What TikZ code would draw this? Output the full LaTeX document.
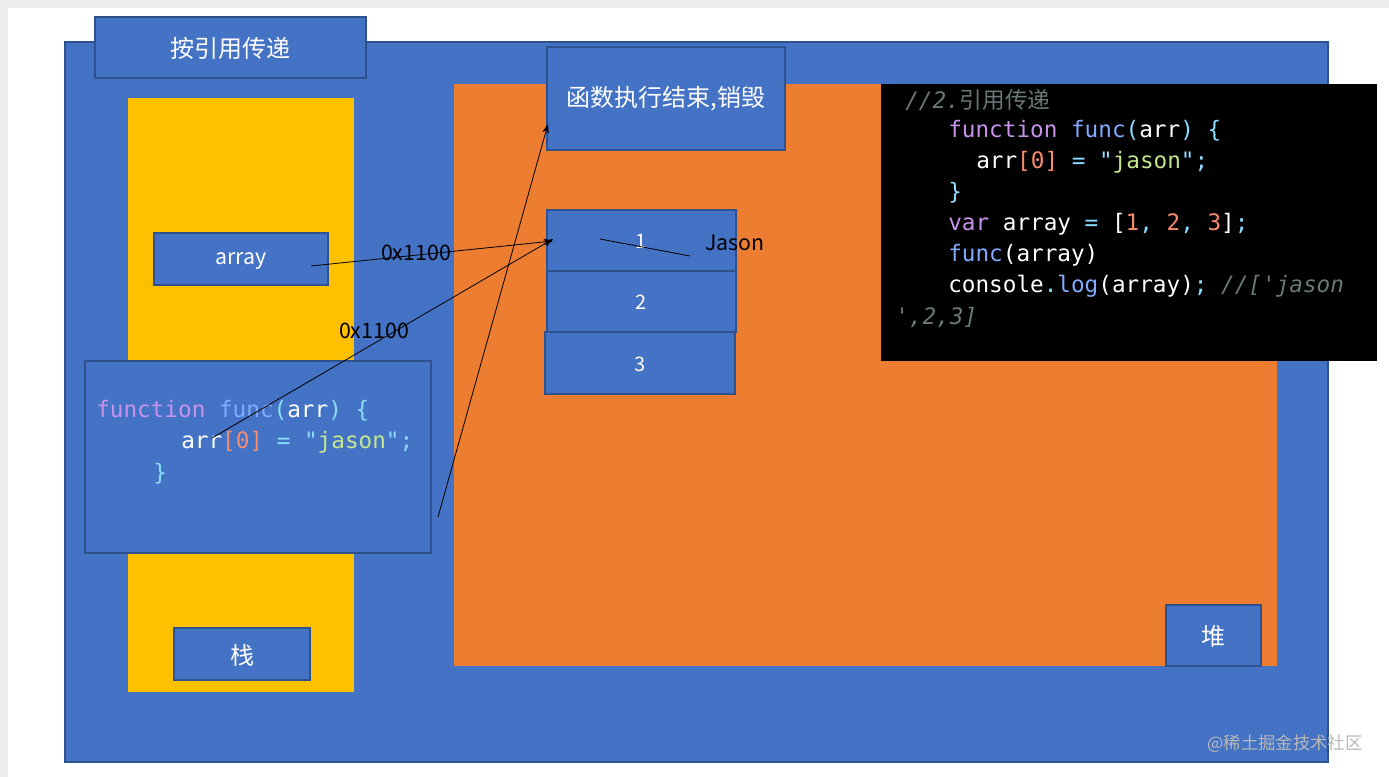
\documentclass[tikz,border=0pt]{standalone}
\usepackage{fontspec}
\setmainfont{Noto Sans CJK SC}
\setmonofont{DejaVu Sans Mono}
\newfontfamily\cjk{Noto Sans CJK SC}
\usetikzlibrary{arrows.meta}
\definecolor{bgblue}{HTML}{4472C4}
\definecolor{edgeblue}{HTML}{2F528F}
\definecolor{yel}{HTML}{FFC000}
\definecolor{ora}{HTML}{ED7D31}
\definecolor{kw}{HTML}{C792EA}
\definecolor{fn}{HTML}{82AAFF}
\definecolor{pn}{HTML}{89DDFF}
\definecolor{num}{HTML}{F78C6C}
\definecolor{str}{HTML}{C3E88D}
\definecolor{cm}{HTML}{697878}
\definecolor{wm}{HTML}{B8B8B8}
\begin{document}
\begin{tikzpicture}[x=0.75pt,y=-0.75pt,
  box/.style={draw=edgeblue,fill=bgblue,line width=0.8pt},
  lbl/.style={text=white,font=\fontsize{18}{20}\selectfont},
  num/.style={text=white,font=\fontsize{15}{18}\selectfont},
  code/.style={anchor=west,inner sep=0pt,text=white,font=\ttfamily\fontsize{17}{20}\selectfont},
  arr/.style={-{Stealth[length=7pt,width=5pt]},black,line width=0.6pt}]
\fill[gray!15] (0,0) rectangle (1389,777);
\fill[white] (8,8) rectangle (1389,777);
\useasboundingbox (0,0) rectangle (1389,777);
\draw[box] (65,42) rectangle (1328,762);
\draw[box] (95,17) rectangle (366,78);
\node[lbl] (title) at (230.5,48) {按引用传递};
\fill[yel] (128,98) rectangle (354,692);
\draw[box] (154,233) rectangle (328,285);
\node[num,font=\fontsize{16}{18}\selectfont] (array) at (241,261) {array};
\draw[box] (85,361) rectangle (431,553);
\draw[box] (174,628) rectangle (310,680);
\node[lbl] (stack) at (242,655) {栈};
\fill[ora] (454,84) rectangle (1277,666);
\draw[box] (547,47) rectangle (785,150);
\node[lbl] (done) at (666,99) {函数执行结束,销毁};
\draw[box] (547,210) rectangle (736,271);
\draw[box] (547,271) rectangle (736,332);
\draw[box] (545,332) rectangle (735,394);
\node[num] (c1) at (641,241) {1};
\node[num] (c2) at (641,302) {2};
\node[num] (c3) at (640,364) {3};
\node[font=\fontsize{16}{18}\selectfont,anchor=west,inner sep=0pt] (jason) at (705,243) {Jason};
\draw[box] (1166,605) rectangle (1261,666);
\node[lbl] (heap) at (1213,636) {堆};
\fill[black] (881,84) rectangle (1377,361);
% code in black box
\node[code] (k1) at (905,100) {\color{cm}\itshape //2.{\cjk 引用传递}};
\node[code] (k2) at (948,131) {\color{kw}function \color{fn}func\color{pn}(\color{white}arr\color{pn}) \{};
\node[code] (k3) at (976,162) {arr\color{num}[0] \color{pn}= "\color{str}jason\color{pn}";};
\node[code] (k4) at (948,193) {\color{pn}\}};
\node[code] (k5) at (948,224) {\color{kw}var \color{white}array \color{pn}= \color{white}[\color{num}1\color{pn}, \color{num}2\color{pn}, \color{num}3\color{white}]\color{pn};};
\node[code] (k6) at (948,255) {\color{fn}func\color{white}(array)};
\node[code] (k7) at (948,286) {console\color{pn}.\color{fn}log\color{white}(array)\color{pn}; \color{cm}\itshape //['jason};
\node[code] (k8) at (895,317) {\color{cm}\itshape ',2,3]};
% code in left box
\node[code] (f1) at (96,411) {\color{kw}function \color{fn}func\color{pn}(\color{white}arr\color{pn}) \{};
\node[code] (f2) at (181,442) {arr\color{num}[0] \color{pn}= "\color{str}jason\color{pn}";};
\node[code] (f3) at (153,474) {\color{pn}\}};
% arrows
\coordinate (a0) at (311,266); \coordinate (a1) at (553,241);
\coordinate (b0) at (212,438); \coordinate (b1) at (553,239);
\coordinate (d0) at (438,517); \coordinate (d1) at (548,124);
\draw[arr] (a0) -- (a1);
\draw[arr] (b0) -- (b1);
\draw[arr] (d0) -- (d1);
\draw[black,line width=0.6pt] (600,239) -- (690,256);
\node[font=\fontsize{16}{18}\selectfont] (l1) at (416,253) {0x1100};
\node[font=\fontsize{16}{18}\selectfont] (l2) at (374,331) {0x1100};
\node[text=wm,font=\fontsize{13}{15}\selectfont] (wmk) at (1285,744) {@稀土掘金技术社区};
\end{tikzpicture}
\end{document}
